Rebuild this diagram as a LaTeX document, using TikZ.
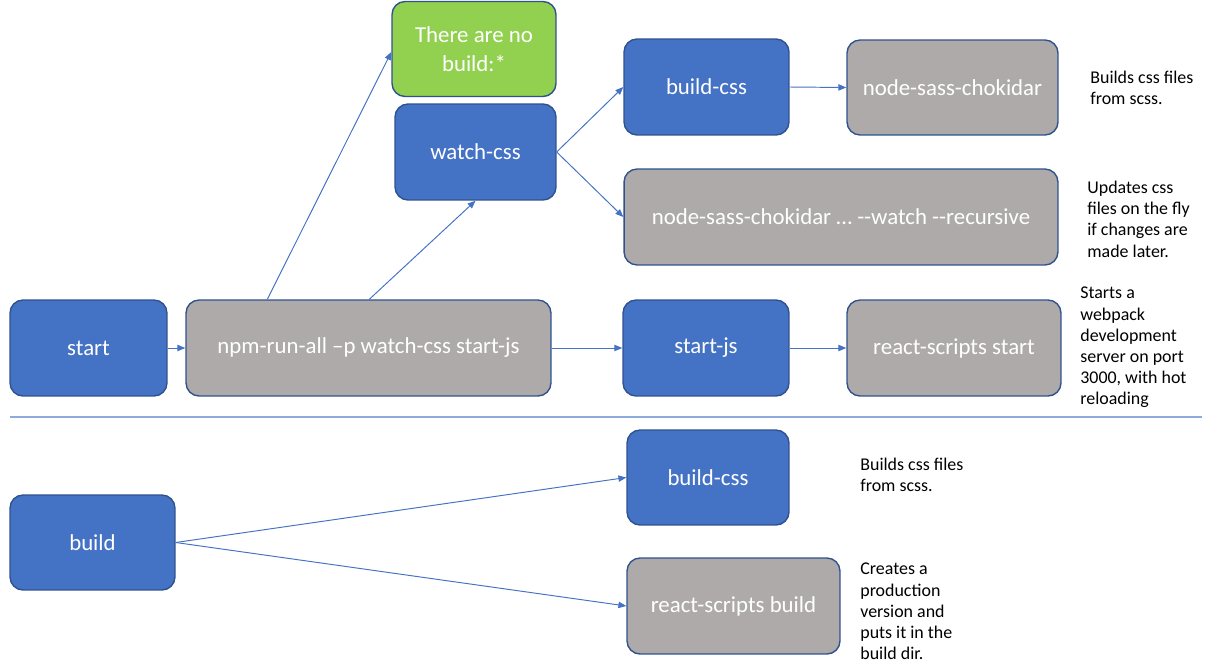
\documentclass[tikz,border=0pt]{standalone}
\usepackage{fontspec}
\setmainfont{Carlito}
\usetikzlibrary{arrows.meta}
\definecolor{boxblue}{HTML}{4472C4}
\definecolor{boxgray}{HTML}{AEAAAA}
\definecolor{boxgreen}{HTML}{92D050}
\definecolor{edgeblue}{HTML}{2F528F}
\definecolor{linkblue}{HTML}{4472C4}
\definecolor{seplight}{HTML}{8FAADC}
\tikzset{
  box/.style={draw=edgeblue, line width=0.8pt, rounded corners=0.26cm, text=white,
    font=\fontsize{13}{16.5}\selectfont, align=center, inner sep=2pt},
  bluebox/.style={box, fill=boxblue},
  graybox/.style={box, fill=boxgray},
  greenbox/.style={box, fill=boxgreen},
  link/.style={draw=linkblue, line width=0.55pt, -{Triangle[length=4.5pt,width=3.6pt]}},
  note/.style={anchor=north west, inner sep=0pt, align=left, text=black,
    font=\fontsize{10.2}{12}\selectfont}
}
\begin{document}
\begin{tikzpicture}[x=0.02cm,y=-0.02cm]
\useasboundingbox (0,0) rectangle (1207,666);
% top section
\node[bluebox, minimum width=3.14cm, minimum height=1.92cm] (start) at (88.5,348) {start};
\node[graybox, minimum width=7.3cm, minimum height=1.92cm] (npm) at (368.5,348) {npm-run-all –p watch-css start-js};
\node[greenbox, minimum width=3.28cm, minimum height=1.9cm] (green) at (474,49) {There are no\\build:*};
\node[bluebox, minimum width=3.22cm, minimum height=1.92cm] (watch) at (475.5,152) {watch-css};
\node[bluebox, minimum width=3.3cm, minimum height=1.92cm] (bcss) at (706.5,87) {build-css};
\node[graybox, minimum width=4.22cm, minimum height=1.9cm] (nsc) at (952.5,87.5) {node-sass-chokidar};
\node[graybox, minimum width=8.68cm, minimum height=1.92cm] (nscw) at (841,217) {node-sass-chokidar … {-}{-}watch {-}{-}recursive};
\node[bluebox, minimum width=3.32cm, minimum height=1.92cm] (sjs) at (706,348) {start-js};
\node[graybox, minimum width=4.28cm, minimum height=1.92cm] (rss) at (954,348) {react-scripts start};
% notes top
\node[note] (n1) at (1090,71) {Builds css files\\from scss.};
\node[note] (n2) at (1087,181) {Updates css\\files on the fly\\if changes are\\made later.};
\node[note] (n3) at (1080,287) {Starts a\\webpack\\development\\server on port\\3000, with hot\\reloading};
% separator
\coordinate (sepL) at (10,417);
\coordinate (sepR) at (1202,417);
\draw[seplight, line width=0.8pt] (sepL) -- (sepR);
% bottom section
\node[bluebox, minimum width=3.3cm, minimum height=1.9cm] (build) at (92.5,542.5) {build};
\node[bluebox, minimum width=3.24cm, minimum height=1.9cm] (bcss2) at (708,477.5) {build-css};
\node[graybox, minimum width=4.26cm, minimum height=1.92cm] (rsb) at (733.5,606) {react-scripts build};
\node[note] (n4) at (860,458) {Builds css files\\from scss.};
\node[note] (n5) at (860,563) {Creates a\\production\\version and\\puts it in the\\build dir.};
% connectors
\coordinate (npmA) at ([xshift=1.64cm]npm.north west);
\coordinate (npmB) at ([xshift=3.68cm]npm.north west);
\draw[link] (start) -- (npm);
\draw[link] (npmA) -- ([yshift=-0.06cm]green.west);
\draw[link] (npmB) -- (watch.south);
\draw[link] (watch.east) -- (bcss.west);
\draw[link] (watch.east) -- (nscw.west);
\draw[link] (bcss.east) -- (nsc.west);
\draw[link] (npm.east) -- (sjs.west);
\draw[link] (sjs.east) -- (rss.west);
\draw[link] (build.east) -- (bcss2.west);
\draw[link] (build.east) -- (rsb.west);
\end{tikzpicture}
\end{document}
